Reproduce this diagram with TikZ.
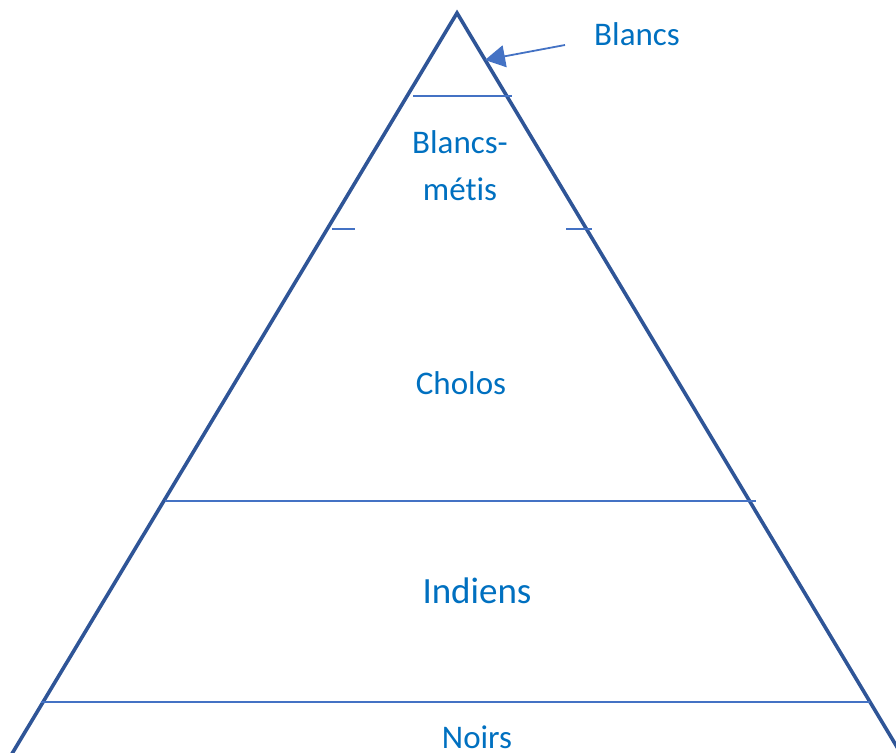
\documentclass[tikz,border=0pt]{standalone}
\usepackage{fontspec}
\setmainfont[Ligatures=NoCommon]{Carlito}
\usetikzlibrary{arrows.meta}
\definecolor{txtblue}{HTML}{0070C0}
\definecolor{edgeblue}{HTML}{2F5597}
\definecolor{lineblue}{HTML}{4472C4}
\begin{document}
\begin{tikzpicture}[x=1pt,y=-1pt,
  lbl/.style={text=txtblue,anchor=base,inner sep=0pt,font=\fontsize{33}{40}\selectfont},
  biglbl/.style={lbl,font=\fontsize{37}{44}\selectfont},
  tier/.style={draw=lineblue,line width=1.6pt},
  pyr/.style={draw=edgeblue,line width=3.6pt,line join=miter},
  pointer/.style={draw=lineblue,line width=1.8pt,-{Triangle[length=20pt,width=22pt]}}]
\useasboundingbox (0,0) rectangle (896,752);
\begin{scope}
\clip (0,0) rectangle (896,752);
\coordinate (apex) at (457,13);
\coordinate (bl) at (-5,782);
\coordinate (br) at (918,782);
\draw[pyr] (bl) -- (apex) -- (br);
\coordinate (t1a) at (413,96);  \coordinate (t1b) at (512,96);
\coordinate (k1a) at (332,229); \coordinate (k1b) at (355,229);
\coordinate (k2a) at (566,229); \coordinate (k2b) at (592,229);
\coordinate (t3a) at (165,501); \coordinate (t3b) at (756,501);
\coordinate (t4a) at (41,702);  \coordinate (t4b) at (870,702);
\draw[tier] (t1a) -- (t1b);
\draw[tier] (k1a) -- (k1b);
\draw[tier] (k2a) -- (k2b);
\draw[tier] (t3a) -- (t3b);
\draw[tier] (t4a) -- (t4b);
\node[lbl] (blancs) at (637,46) {Blancs};
\node[lbl] (bm1) at (460,153) {Blancs-};
\node[lbl] (bm2) at (460,200) {métis};
\node[lbl] (cholos) at (461,394) {Cholos};
\node[biglbl] (indiens) at (477,603) {Indiens};
\node[lbl] (noirs) at (477,748) {Noirs};
\coordinate (tail) at (565,45);
\coordinate (tip) at (485,60);
\draw[pointer] (tail) -- (tip);
\end{scope}
\end{tikzpicture}
\end{document}
